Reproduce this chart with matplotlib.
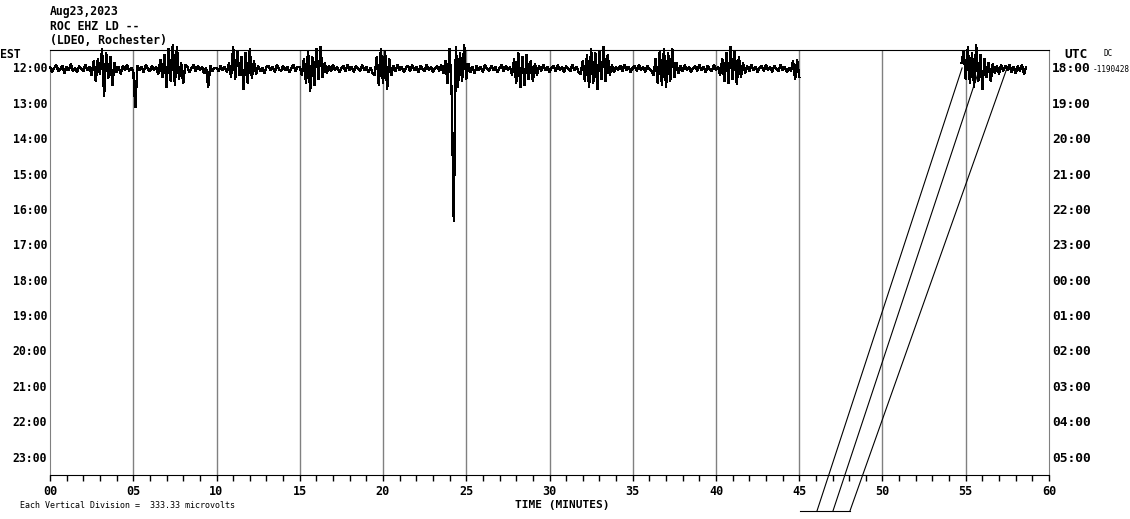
import numpy as np
import matplotlib
matplotlib.use("Agg")
import matplotlib.pyplot as plt
from matplotlib.transforms import blended_transform_factory

# hour rows (local / UTC)
est_labels = ["12:00", "13:00", "14:00", "15:00", "16:00", "17:00",
              "18:00", "19:00", "20:00", "21:00", "22:00", "23:00"]
utc_labels = ["18:00", "19:00", "20:00", "21:00", "22:00", "23:00",
              "00:00", "01:00", "02:00", "03:00", "04:00", "05:00"]
xtick_labels = ["00", "05", "10", "15", "20", "25", "30",
                "35", "40", "45", "50", "55", "60"]

# first row trace, 0.125 min steps, amplitude in pixels (up = positive)
step = 0.125
trace_a_start = 0.0
trace_a = [
    2, -3, 1, 4, -2, 0, 3, -4, 2, -1, 5, -2, 1, -3, 3, 0, -2, 4, -1, 2,
    -6, 8, -12, 10, -5, 20, -27, 16, -9, 12, -16, 6, -3, 2, -5, 3, -1, 4, -2, 1,
    -2, -38, 3, -1, 2, -3, 4, 0, -2, 3, -1, 2, -5, 9, -8, 14, -18, 20, -12, 24,
    -16, 22, -10, 6, -14, 4, 2, -3, 1, 4, -2, 3, -1, 2, -4, 1, -18, 3, -2, 1,
    1, -2, 3, -1, 2, -3, 6, -8, 22, -10, 18, -6, 12, -20, 16, -14, 20, -9, 8, -5,
    3, -2, 1, -4, 2, 3, -1, 2, -3, 4, 0, -2, 3, -1, 2, -3, 1, 4, -2, 2,
    2, -6, 10, -14, 18, -22, 12, -16, 20, -10, 22, -8, 6, -4, 3, -2, 4, -1, 2, -3,
    1, 3, -2, 4, -1, 2, -3, 3, 0, -2, 4, -1, 2, -3, 1, -4, -6, 12, -16, 20,
    -14, 18, -20, 10, -6, 3, -2, 4, -1, 2, -3, 1, 3, -2, 4, -1, 2, -3, 3, 0,
    -2, 4, -1, 2, -3, 1, 3, -2, 4, -4, 8, -14, 20, -25, -152, 22, -18, 16, -12, 24,
    -10, 5, -3, 2, -4, 3, -1, 2, -3, 4, 0, -2, 3, -1, 2, -3, 1, 4, -2, 3,
    -1, 2, -6, 10, -14, 16, -18, 12, -16, 14, -10, 8, -12, 5, -6, 3, -2, 4, -1, 2,
    -3, 1, 3, -2, 4, -1, 2, -3, 3, 0, -2, 4, -1, 2, -3, -5, 8, -12, 14, -18,
    20, -14, 16, -20, 18, -10, 22, -12, 14, -6, 4, -3, 2, -1, 3, -2, 4, -1, 2, -3,
    1, 3, -2, 4, -1, 2, -3, 3, 0, -2, -6, 10, -14, 18, -16, 20, -18, 16, -12, 20,
    -8, 6, -4, 3, -2, 4, -1, 2, -3, 1, 3, -2, 4, -1, 2, -3, 3, 0, -2, 4,
    -1, 2, -6, 10, -12, 16, -14, 22, -10, 18, -15, 12, -8, 6, -4, 3, -2, 4, -1, 2,
    -3, 1, 3, -2, 4, -1, 2, -3, 3, 0, -2, 4, -1, 2, -3, 1, -2, 8, -10, 9, -8,
]
trace_b_start = 54.75
trace_b = [
    6, 18, -10, 22, -14, 16, -18, 24, -12, 14, -20, 10, -8, 6, -12, 5,
    -4, 3, -5, 4, -2, 3, -1, 4, -3, 2, -4, 3, -2, 4, -5, 2,
]

# slanted connector lines (minute, row)
slant_x = [[46.07, 54.78], [47.03, 55.80], [48.05, 57.48]]
slant_y = [[12.49, -0.03], [12.49, 0.03], [12.49, -0.03]]
base_x = [45.05, 48.05]
base_y = [12.49, 12.49]

px_per_row = 35.36

W, H = 1130, 519
fig = plt.figure(figsize=(W / 100, H / 100), dpi=100)
ax = fig.add_axes([50 / W, 1 - 475 / H, 999 / W, 425 / H])
ax.set_xlim(0, 60)
ax.set_ylim(11.48, -0.537)

for m in range(5, 60, 5):
    ax.axvline(m, color="#808080", lw=1, zorder=1)

ta = trace_a_start + np.arange(len(trace_a)) * step
tb = trace_b_start + np.arange(len(trace_b)) * step
ax.plot(ta, -np.array(trace_a) / px_per_row, color="black", lw=1.0,
        zorder=3, clip_on=False, antialiased=False)
ax.plot(tb, -np.array(trace_b) / px_per_row, color="black", lw=1.0,
        zorder=3, clip_on=False, antialiased=False)

for xs, ys in zip(slant_x, slant_y):
    ax.plot(xs, ys, color="black", lw=0.8, clip_on=False)
ax.plot(base_x, base_y, color="black", lw=0.8, clip_on=False)

for s in ["left", "right"]:
    ax.spines[s].set_color("#808080")
ax.spines["top"].set_color("black")
ax.spines["bottom"].set_color("black")

ax.set_xticks(range(0, 61, 5))
ax.set_xticklabels(xtick_labels, fontfamily="DejaVu Sans Mono", fontweight="bold", fontsize=8.5)
ax.set_xticks(range(0, 61), minor=True)
ax.tick_params(axis="x", which="both", direction="out", length=4.3, width=1, pad=3)
ax.set_yticks([])

mono = "DejaVu Sans Mono"
tl = blended_transform_factory(fig.transFigure, ax.transData)
for i, lab in enumerate(est_labels):
    ax.text(47 / W, i, lab, transform=tl, ha="right", va="center",
            fontfamily=mono, fontweight="bold", fontsize=8.3)
for i, lab in enumerate(utc_labels):
    ax.text(1052 / W, i, lab, transform=tl, ha="left", va="center",
            fontfamily=mono, fontweight="bold", fontsize=9.3)

def ftext(x, y, s, size, **kw):
    fig.text(x / W, 1 - y / H, s, fontfamily=mono, fontsize=size, **kw)

ftext(50, 12, "Aug23,2023", 8.3, fontweight="bold", va="center")
ftext(50, 27, "ROC EHZ LD --", 8.3, fontweight="bold", va="center")
ftext(50, 41, "(LDEO, Rochester)", 8.3, fontweight="bold", va="center")
ftext(0, 55, "EST", 8.3, fontweight="bold", va="center")
ftext(1064, 55, "UTC", 9.3, fontweight="bold", va="center")
ftext(1104, 53, "DC", 5.5, va="center")
ftext(1093, 69, "-1190428", 5.6, va="center")
ftext(562, 504.5, "TIME (MINUTES)", 8.0, fontweight="bold", va="center", ha="center")
ftext(20, 505, "Each Vertical Division =  333.33 microvolts", 6.0, va="center")

fig.savefig("out.png", dpi=100)
